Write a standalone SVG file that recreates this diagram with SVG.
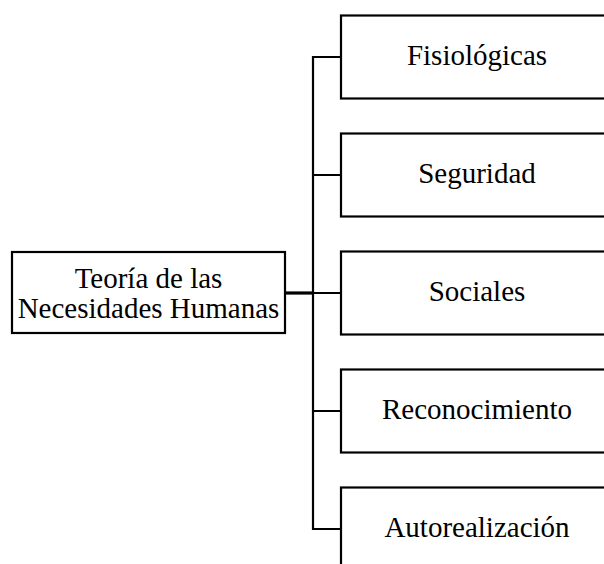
<svg xmlns="http://www.w3.org/2000/svg" width="604" height="564" viewBox="0 0 604 564">
<style>
.box{fill:#fff;stroke:#000;stroke-width:2.2}
.t{font-family:"Liberation Serif","Times New Roman",serif;font-size:29px;fill:#000;text-anchor:middle}
.c{fill:none;stroke:#000;stroke-width:2.2}
</style>
<rect width="604" height="564" fill="#fff"/>
<g id="connectors">
<path class="c" d="M341 57 H313 V529 H341"/>
<path class="c" d="M313 175 H341 M313 293 H341 M313 411 H341"/>
<path class="c" style="stroke-width:3.2" d="M286 293 H313"/>
</g>
<g id="root">
<rect class="box" x="12" y="252" width="273" height="81"/>
<text class="t" x="148.5" y="288">Teoría de las</text>
<text class="t" x="148.5" y="318">Necesidades Humanas</text>
</g>
<g id="n1">
<rect class="box" x="341" y="15.5" width="280" height="83"/>
<text class="t" x="477" y="65">Fisiológicas</text>
</g>
<g id="n2">
<rect class="box" x="341" y="133.5" width="280" height="83"/>
<text class="t" x="477" y="183">Seguridad</text>
</g>
<g id="n3">
<rect class="box" x="341" y="251.5" width="280" height="83"/>
<text class="t" x="477" y="301">Sociales</text>
</g>
<g id="n4">
<rect class="box" x="341" y="369.5" width="280" height="83"/>
<text class="t" x="477" y="419">Reconocimiento</text>
</g>
<g id="n5">
<rect class="box" x="341" y="487.5" width="280" height="83"/>
<text class="t" x="477" y="537">Autorealización</text>
</g>
</svg>
